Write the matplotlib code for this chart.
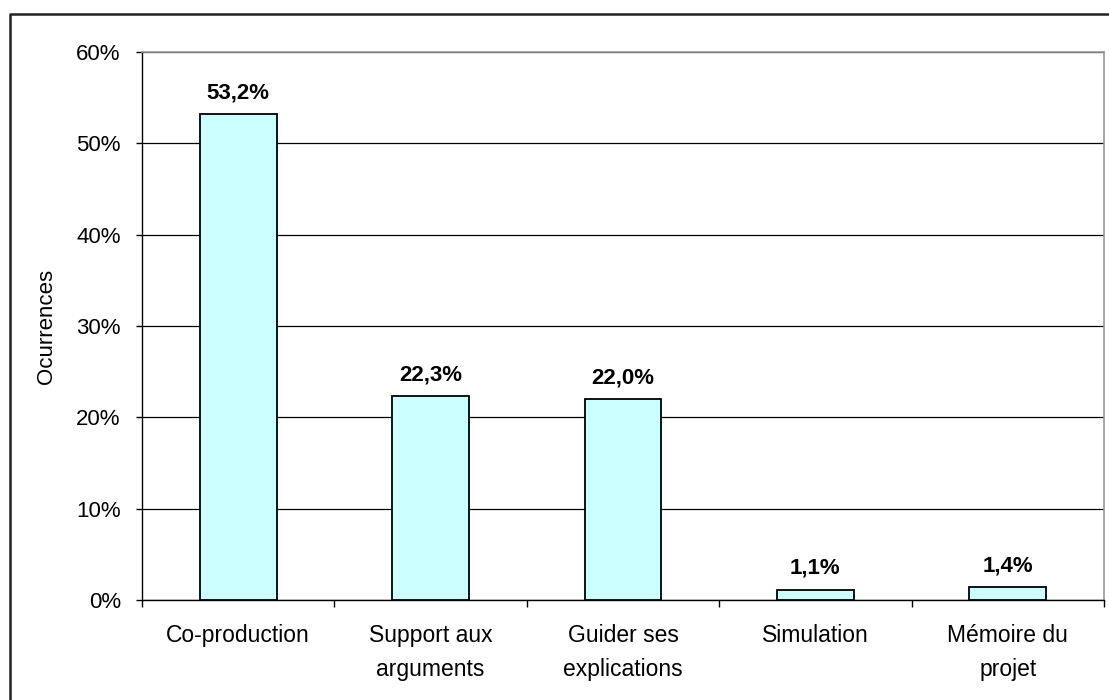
import matplotlib.pyplot as plt
from matplotlib.lines import Line2D
from matplotlib.ticker import FuncFormatter, MultipleLocator

plt.rcParams['font.family'] = ['Liberation Sans', 'DejaVu Sans']

categories = ["Co-production", "Support aux\narguments", "Guider ses\nexplications",
              "Simulation", "Mémoire du\nprojet"]
values = [53.2, 22.3, 22.0, 1.1, 1.4]
value_labels = ["53,2%", "22,3%", "22,0%", "1,1%", "1,4%"]

W, H = 1109, 700
fig = plt.figure(figsize=(W / 100, H / 100), dpi=100)
ax = fig.add_axes([142 / W, 1 - 600 / H, (1104 - 142) / W, (600 - 52) / H])

x = list(range(len(categories)))
ax.bar(x, values, width=0.4, color="#CCFFFF", edgecolor="black", linewidth=1.3, zorder=3)

for xi, v, lab in zip(x, values, value_labels):
    ax.text(xi, v + 1.2, lab, ha="center", va="bottom", fontsize=16, fontweight="bold")

ax.set_xlim(-0.5, len(categories) - 0.5)
ax.set_ylim(0, 60)
ax.yaxis.set_major_locator(MultipleLocator(10))
ax.yaxis.set_major_formatter(FuncFormatter(lambda v, p: f"{v:.0f}%"))
ax.grid(axis="y", color="black", linewidth=0.9, zorder=0)

# category boundary ticks
ax.set_xticks([i - 0.5 for i in range(len(categories) + 1)])
ax.set_xticklabels([])
ax.set_xticks(x, minor=True)
ax.set_xticklabels(categories, minor=True, fontsize=16.5, linespacing=1.65, va="top")
ax.tick_params(axis="x", which="minor", length=0, pad=17)
ax.tick_params(axis="x", which="major", direction="out", length=5, width=1)
ax.tick_params(axis="y", direction="out", length=4.3, width=1, labelsize=16, pad=11)

for s in ["top", "right"]:
    ax.spines[s].set_color("#999999")
    ax.spines[s].set_linewidth(1.2)
for s in ["left", "bottom"]:
    ax.spines[s].set_color("black")
    ax.spines[s].set_linewidth(1)

ax.set_ylabel("Ocurrences", fontsize=16, labelpad=14)

# outer chart border
fig.add_artist(Line2D([9.5 / W, 9.5 / W, 1.0], [0.0, 1 - 13.5 / H, 1 - 13.5 / H],
                      transform=fig.transFigure, color="#222222", linewidth=1.8))

fig.savefig("out.png", dpi=100)
